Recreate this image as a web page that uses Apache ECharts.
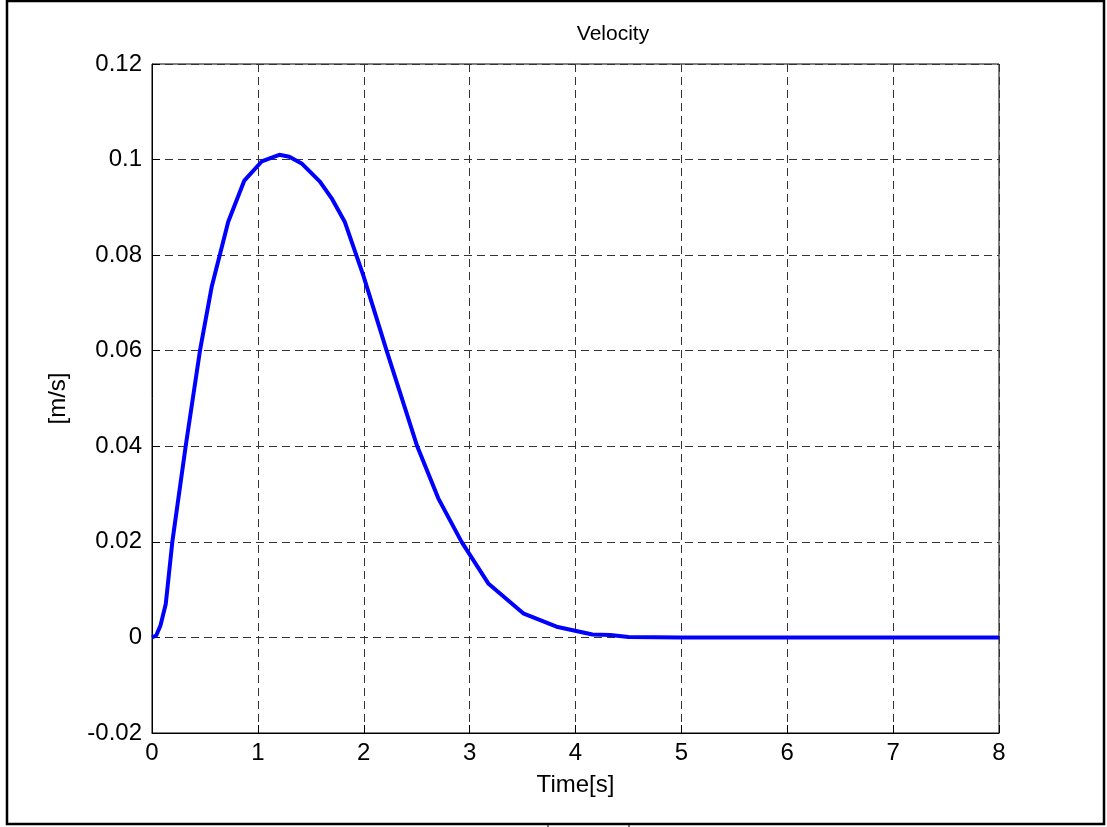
<!DOCTYPE html>
<html>
<head>
<meta charset="utf-8">
<title>Velocity</title>
<script src="https://cdn.jsdelivr.net/npm/echarts@6/dist/echarts.min.js"></script>
<style>
    html, body { margin: 0; padding: 0; background: #fff; }
    #mychart { width: 1107px; height: 827px; }
</style>
</head>
<body>
<div id="mychart"></div>
<script>
// 时间 [s]
var timeData = [0, 0.04, 0.08, 0.13, 0.192, 0.318, 0.453, 0.564, 0.72, 0.872, 1.036, 1.202, 1.297,
    1.413, 1.586, 1.697, 1.82, 1.995, 2.216, 2.505, 2.704, 2.924, 3.176, 3.506, 3.821, 4.16,
    4.33, 4.5, 5, 6, 7, 8];
// 速度 [m/s]
var velocityData = [0, 0.0004, 0.0025, 0.007, 0.02, 0.04, 0.06, 0.0734, 0.087, 0.0956, 0.0996, 0.101, 0.1006,
    0.0992, 0.0954, 0.0919, 0.087, 0.0758, 0.06, 0.04, 0.0291, 0.02, 0.0113, 0.00504, 0.00224, 0.0006,
    0.0005, 0.0001, 0, 0, 0, 0];
// 刻度标签
var xTickLabels = ['0', '1', '2', '3', '4', '5', '6', '7', '8'];
var yTickLabels = ['-0.02', '0', '0.02', '0.04', '0.06', '0.08', '0.1', '0.12'];

var points = timeData.map(function (t, i) { return [t, velocityData[i]]; });

var myChart = echarts.init(document.getElementById('mychart'));
var font = 'Liberation Sans, Arial, sans-serif';

var option = {
    backgroundColor: '#ffffff',
    animation: false,
    grid: {
        left: 152,
        right: 108,
        top: 64,
        bottom: 94,
        show: true,
        borderColor: '#000',
        borderWidth: 1,
        backgroundColor: 'transparent'
    },
    graphic: [
        // 外边框
        {
            type: 'rect',
            shape: { x: 7, y: 1, width: 1097, height: 823 },
            style: { fill: 'none', stroke: '#000', lineWidth: 2.5 },
            silent: true
        },
        {
            type: 'line',
            shape: { x1: 548, y1: 825, x2: 548, y2: 827 },
            style: { stroke: '#000', lineWidth: 1 }
        },
        {
            type: 'line',
            shape: { x1: 629, y1: 825, x2: 629, y2: 827 },
            style: { stroke: '#000', lineWidth: 1 }
        },
        // 标题
        {
            type: 'text',
            x: 613,
            y: 34,
            style: {
                text: 'Velocity',
                font: '21px ' + font,
                fill: '#000',
                textAlign: 'center',
                textVerticalAlign: 'middle'
            }
        }
    ],
    xAxis: {
        type: 'value',
        min: 0,
        max: 8,
        interval: 1,
        name: 'Time[s]',
        nameLocation: 'middle',
        nameGap: 40,
        nameTextStyle: { color: '#000', fontSize: 24, fontFamily: font },
        axisLine: { show: true, onZero: false, lineStyle: { color: '#000', width: 1 } },
        axisTick: { show: true, inside: true, length: 8, lineStyle: { color: '#000' } },
        axisLabel: {
            margin: 8,
            color: '#000',
            fontSize: 24,
            fontFamily: font,
            formatter: function (val) { return xTickLabels[Math.round(val)]; }
        },
        splitLine: {
            show: true,
            lineStyle: { color: '#333', width: 1, type: [8, 5] }
        }
    },
    yAxis: {
        type: 'value',
        min: -0.02,
        max: 0.12,
        interval: 0.02,
        name: '[m/s]',
        nameLocation: 'middle',
        nameRotate: 90,
        nameGap: 82,
        nameTextStyle: { color: '#000', fontSize: 24, fontFamily: font },
        axisLine: { show: true, onZero: false, lineStyle: { color: '#000', width: 1 } },
        axisTick: { show: true, inside: true, length: 8, lineStyle: { color: '#000' } },
        axisLabel: {
            margin: 10,
            color: '#000',
            fontSize: 24,
            fontFamily: font,
            formatter: function (val) { return yTickLabels[Math.round((val + 0.02) / 0.02)]; }
        },
        splitLine: {
            show: true,
            lineStyle: { color: '#333', width: 1, type: [8, 5] }
        }
    },
    series: [{
        type: 'line',
        data: points,
        showSymbol: false,
        smooth: false,
        lineStyle: { color: '#0000ff', width: 4 },
        z: 5
    }]
};
myChart.setOption(option);
</script>
</body>
</html>
